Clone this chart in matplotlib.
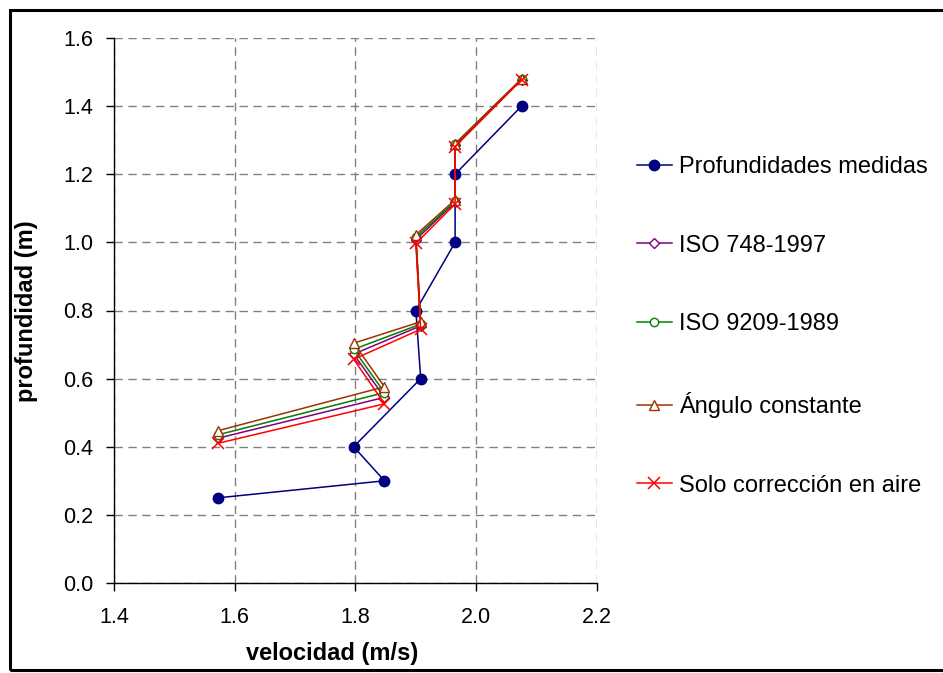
import matplotlib
matplotlib.use("Agg")
import matplotlib.pyplot as plt
from matplotlib.patches import Rectangle
from matplotlib.ticker import FormatStrFormatter

plt.rcParams['font.family'] = ['Liberation Sans', 'DejaVu Sans']

# Velocidades medidas (m/s), comunes a todas las series
velocidad = [1.572, 1.848, 1.797, 1.908, 1.900, 1.965, 1.965, 2.075]

# Profundidades (m)
prof_medidas = [0.25, 0.30, 0.40, 0.60, 0.80, 1.00, 1.20, 1.40]
prof_iso748 = [0.425, 0.545, 0.672, 0.755, 1.008, 1.118, 1.285, 1.478]
prof_iso9209 = [0.435, 0.559, 0.686, 0.760, 1.015, 1.120, 1.288, 1.479]
prof_angulo = [0.447, 0.576, 0.704, 0.767, 1.022, 1.125, 1.290, 1.480]
prof_aire = [0.410, 0.526, 0.657, 0.745, 0.997, 1.113, 1.281, 1.477]

etiquetas = ["Profundidades medidas", "ISO 748-1997", "ISO 9209-1989",
             "Ángulo constante", "Solo corrección en aire"]

x_ticks = [1.4, 1.6, 1.8, 2.0, 2.2]
y_ticks = [0.0, 0.2, 0.4, 0.6, 0.8, 1.0, 1.2, 1.4, 1.6]

W, H = 943, 673
fig = plt.figure(figsize=(W / 100, H / 100), dpi=100)
ax = fig.add_axes([114 / W, 1 - 583 / H, (597 - 114) / W, (583 - 38) / H])

estilos = [
    dict(color="#000080", marker="o", markersize=7.5, markerfacecolor="#000080",
         markeredgecolor="#000080"),
    dict(color="#800080", marker="D", markersize=5, markerfacecolor="white",
         markeredgecolor="#800080"),
    dict(color="#008000", marker="o", markersize=6, markerfacecolor="white",
         markeredgecolor="#008000"),
    dict(color="#993300", marker="^", markersize=6.5, markerfacecolor="white",
         markeredgecolor="#993300"),
    dict(color="#FF0000", marker="x", markersize=8, markeredgecolor="#FF0000",
         markeredgewidth=1.1),
]
series = [prof_medidas, prof_iso748, prof_iso9209, prof_angulo, prof_aire]

for prof, lab, st in zip(series, etiquetas, estilos):
    ax.plot(velocidad, prof, linewidth=1.1, label=lab, clip_on=False, **st)

ax.set_xlim(1.4, 2.2)
ax.set_ylim(0.0, 1.6)
ax.set_xticks(x_ticks)
ax.set_yticks(y_ticks)
ax.xaxis.set_major_formatter(FormatStrFormatter('%.1f'))
ax.yaxis.set_major_formatter(FormatStrFormatter('%.1f'))
ax.tick_params(axis='both', direction='out', length=6, width=1, labelsize=15.5,
               colors='black')
ax.tick_params(axis='x', pad=11)
ax.tick_params(axis='y', pad=9)

ax.grid(True, color="#808080", linestyle=(0, (6, 4)), linewidth=1)
ax.set_axisbelow(True)
for s in ['top', 'right']:
    ax.spines[s].set_visible(False)
for s in ['left', 'bottom']:
    ax.spines[s].set_color('black')
    ax.spines[s].set_linewidth(1)

fig.text(27 / W, 1 - 311 / H, "profundidad (m)", rotation=90, fontsize=17,
         fontweight='bold', ha='center', va='center')
fig.text(332 / W, 1 - 665 / H, "velocidad (m/s)", fontsize=17,
         fontweight='bold', ha='center', va='bottom')

leg = ax.legend(loc='upper left', bbox_to_anchor=(637 / W, 1 - 156 / H),
                bbox_transform=fig.transFigure, frameon=False, fontsize=17,
                handlelength=1.48, handletextpad=0.3, labelspacing=2.4,
                borderpad=0, borderaxespad=0)

# Marco exterior del gráfico
fig.add_artist(Rectangle((9.5 / W, 1 - 669.5 / H), 1.2, (669.5 - 9.5) / H,
                         transform=fig.transFigure, facecolor='none',
                         edgecolor='black', linewidth=2.2, zorder=10))

fig.savefig("out.png", dpi=100)
